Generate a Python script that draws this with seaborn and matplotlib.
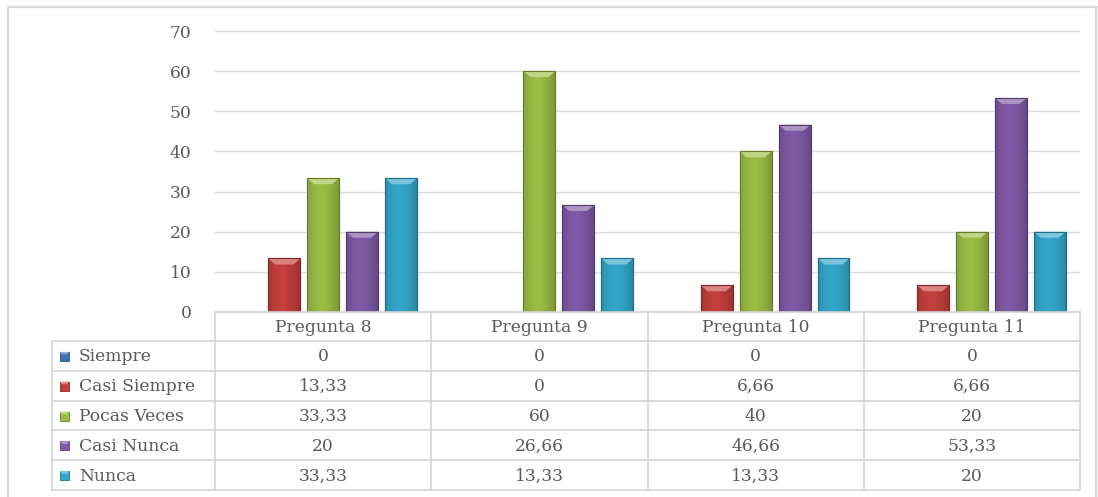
import numpy as np
import pandas as pd
import matplotlib
matplotlib.use("Agg")
import matplotlib.pyplot as plt
import seaborn as sns
from matplotlib.patches import Polygon, Rectangle
from matplotlib.lines import Line2D
from matplotlib.colors import to_rgb

# ---- data ----
preguntas = ["Pregunta 8", "Pregunta 9", "Pregunta 10", "Pregunta 11"]
series = ["Siempre", "Casi Siempre", "Pocas Veces", "Casi Nunca", "Nunca"]
siempre = [0, 0, 0, 0]
casi_siempre = [13.33, 0, 6.66, 6.66]
pocas_veces = [33.33, 60, 40, 20]
casi_nunca = [20, 26.66, 46.66, 53.33]
nunca = [33.33, 13.33, 13.33, 20]
y_ticks = [0, 10, 20, 30, 40, 50, 60, 70]

colors = ["#3D71B8", "#C4403D", "#9BBE45", "#7F5BA6", "#33A8CB"]

values = [siempre, casi_siempre, pocas_veces, casi_nunca, nunca]
df = pd.DataFrame(
    [(p, s, v) for s, vals in zip(series, values) for p, v in zip(preguntas, vals)],
    columns=["pregunta", "serie", "valor"],
)

W, H = 1098, 497
sns.set_theme(style="white")
plt.rcParams["font.family"] = ["DejaVu Serif"]
txt_col = "#595959"
grid_col = "#D9D9D9"
line_col = "#D4D4D4"
fs = 12.3

fig = plt.figure(figsize=(W / 100, H / 100), dpi=100)

# outer chart frame
for (x0, y0, x1, y1) in [(8, 7, 1097, 7), (8, 7, 8, 497), (1096, 7, 1096, 497)]:
    fig.add_artist(Line2D([x0 / W, x1 / W], [1 - y0 / H, 1 - y1 / H],
                          color=grid_col, lw=1.6, transform=fig.transFigure))

left_px, right_px, top_px, base_px = 215, 1080, 31, 312
ax = fig.add_axes([left_px / W, 1 - base_px / H, (right_px - left_px) / W,
                   (base_px - top_px) / H])

sns.barplot(data=df, x="pregunta", y="valor", hue="serie", hue_order=series,
            order=preguntas, palette=colors, width=0.9, gap=0.18,
            legend=False, ax=ax, saturation=1, errorbar=None)

ax.set_ylim(0, 70)
ax.set_xlim(-0.5, len(preguntas) - 0.5)
ax.set_yticks(y_ticks)
ax.set_yticklabels([str(t) for t in y_ticks], color=txt_col, fontsize=fs)
ax.tick_params(axis="y", length=0, pad=17)
ax.set_xticks([])
ax.set_xlabel("")
ax.set_ylabel("")
for sp in ax.spines.values():
    sp.set_visible(False)
ax.grid(axis="y", color=grid_col, lw=1.0)
ax.set_axisbelow(True)

# bevelled look for each bar: horizontal shading plus a light top facet
fig.canvas.draw()
px_per_unit = (base_px - top_px) / 70.0
for patch in list(ax.patches):
    x0, y0 = patch.get_x(), patch.get_y()
    w, h = patch.get_width(), patch.get_height()
    if h <= 0:
        patch.set_visible(False)
        continue
    base = np.array(to_rgb(patch.get_facecolor()))
    t = np.linspace(0, 1, 64)
    shade = 1.0 - 0.22 * np.abs(t - 0.45) ** 1.5 * 2.2
    img = np.clip(base[None, :] * shade[:, None], 0, 1)[None, :, :]
    im = ax.imshow(img, extent=[x0, x0 + w, y0, y0 + h], aspect="auto",
                   zorder=patch.get_zorder() + 0.1, interpolation="bicubic")
    im.set_clip_path(patch)
    patch.set_edgecolor(tuple(base * 0.7))
    patch.set_linewidth(0.8)
    edge = Rectangle((x0, y0), w, h, fill=False, edgecolor=tuple(base * 0.65),
                     lw=0.8, zorder=patch.get_zorder() + 0.3)
    ax.add_patch(edge)
    bev = 6 / px_per_unit
    dx = w * 0.22
    light = np.clip(base + (1 - base) * 0.35, 0, 1)
    ax.add_patch(Polygon([[x0, y0 + h], [x0 + w, y0 + h],
                          [x0 + w - dx, y0 + h - bev], [x0 + dx, y0 + h - bev]],
                         closed=True, facecolor=light, edgecolor="none",
                         zorder=patch.get_zorder() + 0.2))
ax.set_xlim(-0.5, len(preguntas) - 0.5)
ax.set_ylim(0, 70)

# ---- data table below the plot ----
tab_left, tab_bottom = 52, 490
header_bottom = 341
tab = fig.add_axes([0, 0, 1, 1], facecolor="none")
tab.set_xlim(0, W)
tab.set_ylim(H, 0)
tab.axis("off")

ncat = len(preguntas)
col_w = (right_px - left_px) / ncat
col_edges = [left_px + i * col_w for i in range(ncat + 1)]
row_h = (tab_bottom - header_bottom) / len(series)
row_edges = [header_bottom + i * row_h for i in range(len(series) + 1)]

lkw = dict(color=line_col, lw=1.2)
tab.plot([left_px, right_px], [base_px, base_px], **lkw)
for y in row_edges:
    tab.plot([tab_left, right_px], [y, y], **lkw)
tab.plot([tab_left, tab_left], [header_bottom, tab_bottom], **lkw)
for x in col_edges:
    tab.plot([x, x], [base_px, tab_bottom], **lkw)

for i, p in enumerate(preguntas):
    cx = (col_edges[i] + col_edges[i + 1]) / 2
    tab.text(cx, (base_px + header_bottom) / 2 + 1, p, ha="center", va="center",
             color=txt_col, fontsize=fs)

def fmt(v):
    s = f"{v:.2f}".rstrip("0").rstrip(".")
    return s.replace(".", ",")

for r, (s, vals, c) in enumerate(zip(series, values, colors)):
    cy = (row_edges[r] + row_edges[r + 1]) / 2 + 1
    base = np.array(to_rgb(c))
    tab.add_patch(Rectangle((60, cy - 5), 9, 9, facecolor=c,
                            edgecolor=tuple(base * 0.7), lw=0.6))
    tab.add_patch(Polygon([[60, cy - 5], [69, cy - 5], [67, cy - 2.5], [62, cy - 2.5]],
                          facecolor=tuple(np.clip(base + (1 - base) * 0.4, 0, 1)),
                          edgecolor="none"))
    tab.text(79, cy, s, ha="left", va="center", color=txt_col, fontsize=fs)
    for i, v in enumerate(vals):
        cx = (col_edges[i] + col_edges[i + 1]) / 2
        tab.text(cx, cy, fmt(v), ha="center", va="center", color=txt_col, fontsize=fs)

fig.savefig("out.png", dpi=100, facecolor="white")
